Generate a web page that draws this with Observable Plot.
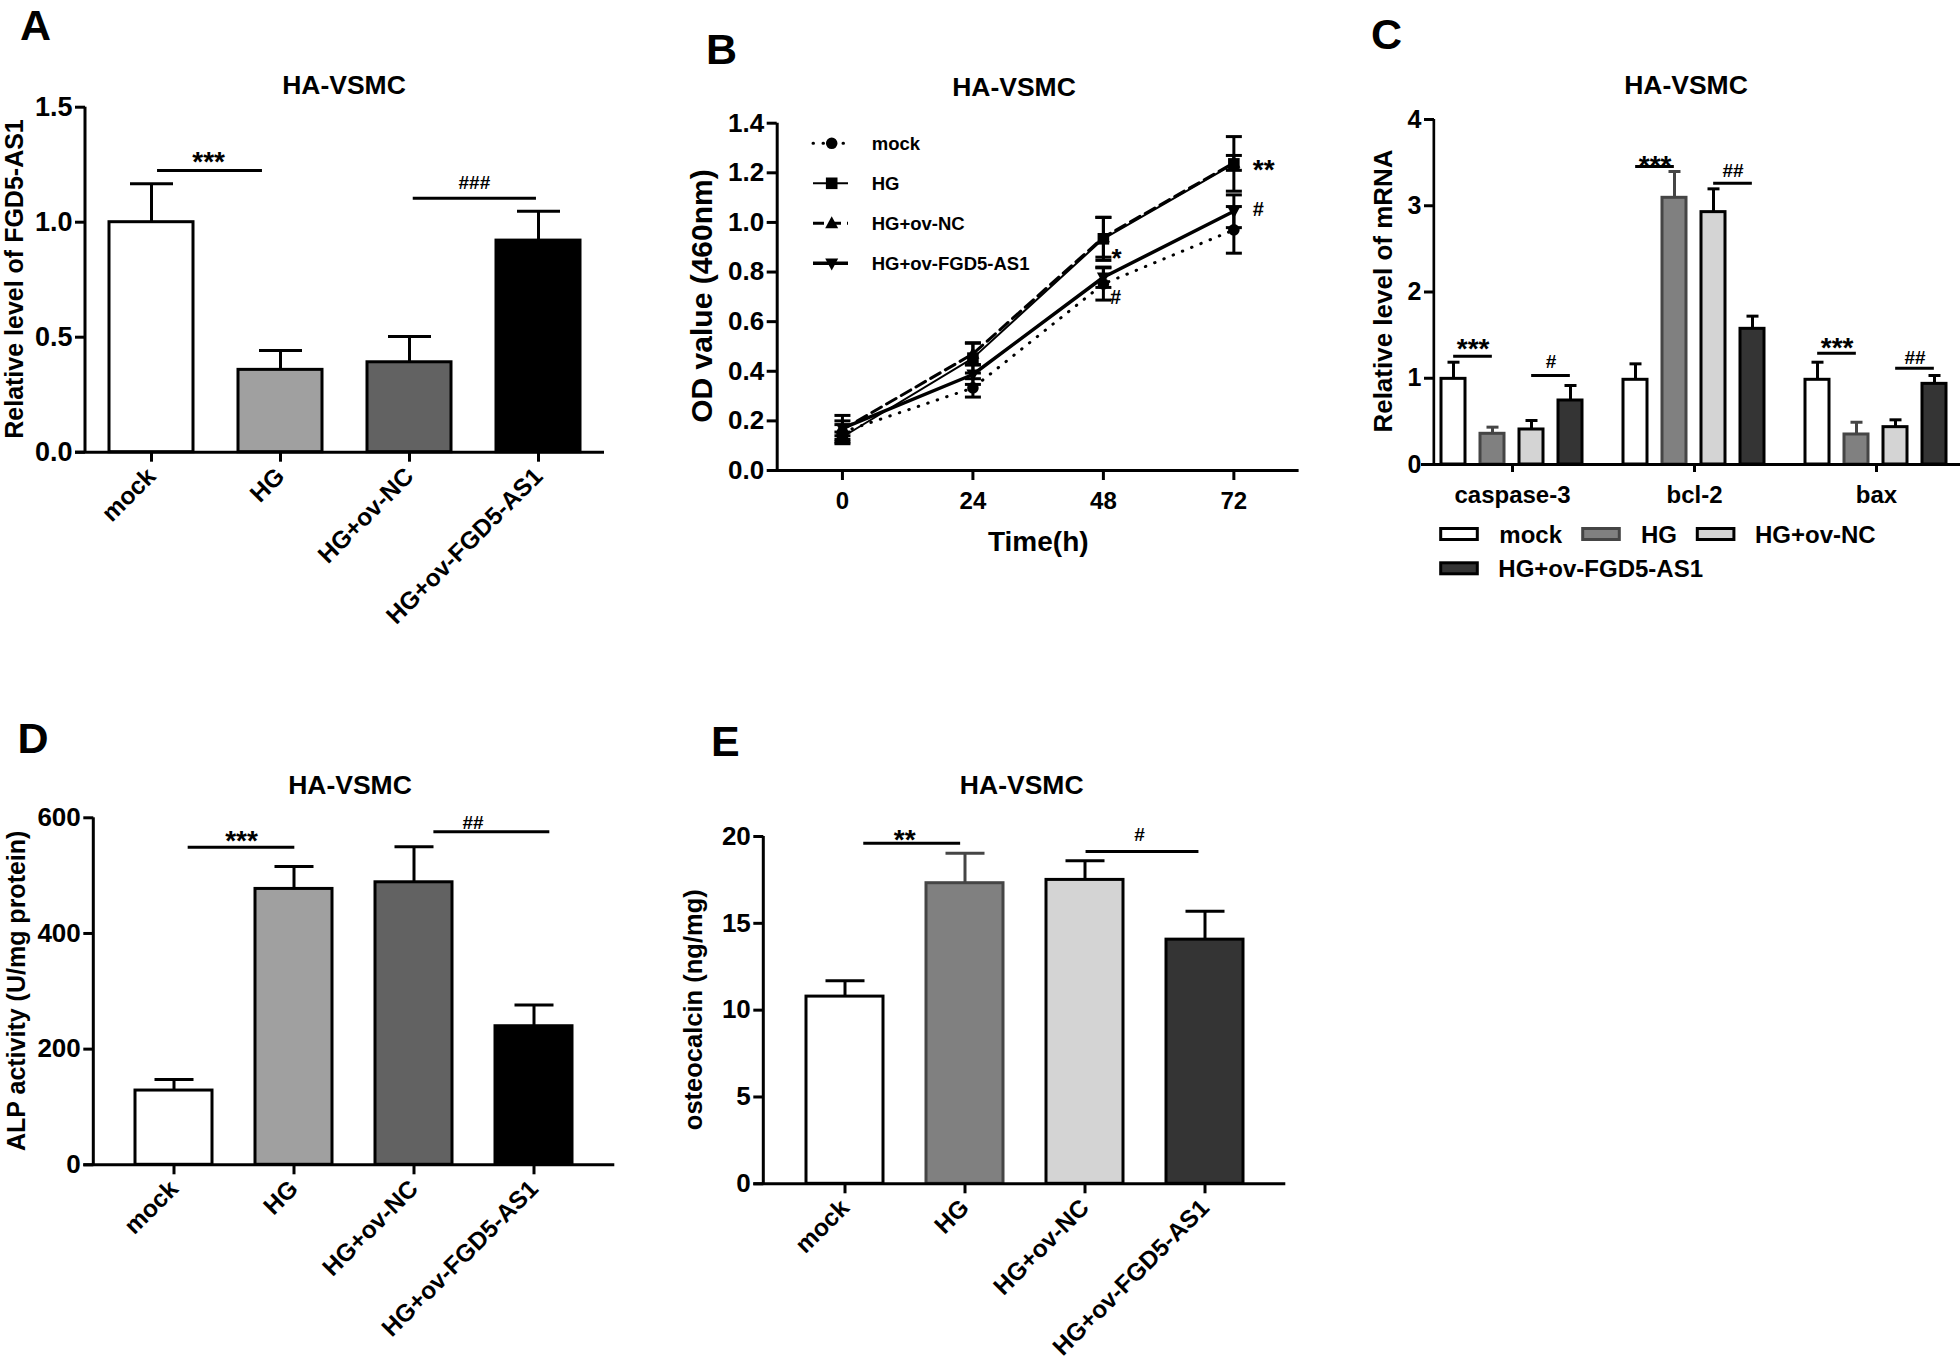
<!DOCTYPE html>
<html>
<head>
<meta charset="utf-8">
<script src="https://cdn.jsdelivr.net/npm/d3@7"></script>
<script src="https://cdn.jsdelivr.net/npm/@observablehq/plot@0.6"></script>
<style>
html, body { margin: 0; padding: 0; background: #fff; overflow: hidden; }
#fig { position: relative; width: 1960px; height: 1362px; background: #fff; }
.panel { position: absolute; }
#overlay { position: absolute; left: 0; top: 0; pointer-events: none; }
</style>
</head>
<body>
<div id="fig"></div>
<script>
// ================= DATA =================
const groups = ["mock", "HG", "HG+ov-NC", "HG+ov-FGD5-AS1"];

// Panel A: relative level of FGD5-AS1
const fgd5Mean = [1.00, 0.358, 0.391, 0.920];
const fgd5Err = [0.167, 0.084, 0.112, 0.128];
const fgd5Ticks = [0, 0.5, 1.0, 1.5];
const fgd5Sig = [
  {from: "mock", to: "HG", level: 1.225, label: "***"},
  {from: "HG+ov-NC", to: "HG+ov-FGD5-AS1", level: 1.104, label: "###"}
];

// Panel B: OD value (460nm) over time
const hours = [0, 24, 48, 72];
const odMock = [0.155, 0.333, 0.752, 0.970];
const odMockSd = [0.030, 0.037, 0.065, 0.094];
const odHG = [0.135, 0.453, 0.934, 1.236];
const odHGSd = [0.020, 0.060, 0.087, 0.110];
const odNC = [0.165, 0.470, 0.940, 1.240];
const odNCSd = [0.057, 0.045, 0.080, 0.030];
const odFGD = [0.170, 0.387, 0.779, 1.045];
const odFGDSd = [0.030, 0.040, 0.041, 0.066];
const odTicks = [0, 0.2, 0.4, 0.6, 0.8, 1.0, 1.2, 1.4];
const odSig = [
  {series: "HG", hour: 72, label: "**"},
  {series: "HG+ov-FGD5-AS1", hour: 72, label: "#"},
  {series: "HG", hour: 48, label: "*"},
  {series: "HG+ov-FGD5-AS1", hour: 48, label: "#"}
];

// Panel C: relative level of mRNA
const genes = ["caspase-3", "bcl-2", "bax"];
const mrnaMock = [0.993, 0.982, 0.982];
const mrnaMockErr = [0.193, 0.185, 0.204];
const mrnaHG = [0.356, 3.092, 0.348];
const mrnaHGErr = [0.077, 0.305, 0.142];
const mrnaNC = [0.406, 2.926, 0.433];
const mrnaNCErr = [0.104, 0.270, 0.085];
const mrnaFGD = [0.742, 1.573, 0.935];
const mrnaFGDErr = [0.174, 0.147, 0.097];
const mrnaTicks = [0, 1, 2, 3, 4];
const mrnaSig = [
  {gene: "caspase-3", from: "mock", to: "HG", level: 1.256, label: "***"},
  {gene: "caspase-3", from: "HG+ov-NC", to: "HG+ov-FGD5-AS1", level: 1.032, label: "#"},
  {gene: "bcl-2", from: "mock", to: "HG", level: 3.455, label: "***"},
  {gene: "bcl-2", from: "HG+ov-NC", to: "HG+ov-FGD5-AS1", level: 3.261, label: "##"},
  {gene: "bax", from: "mock", to: "HG", level: 1.291, label: "***"},
  {gene: "bax", from: "HG+ov-NC", to: "HG+ov-FGD5-AS1", level: 1.117, label: "##"}
];

// Panel D: ALP activity
const alpMean = [128.4, 477.0, 488.5, 239.6];
const alpErr = [19.1, 39.0, 61.5, 36.9];
const alpTicks = [0, 200, 400, 600];
const alpSig = [
  {from: "mock", to: "HG", level: 549, label: "***"},
  {from: "HG+ov-NC", to: "HG+ov-FGD5-AS1", level: 576, label: "##"}
];

// Panel E: osteocalcin
const ocnMean = [10.78, 17.31, 17.50, 14.06];
const ocnErr = [0.92, 1.72, 1.11, 1.63];
const ocnTicks = [0, 5, 10, 15, 20];
const ocnSig = [
  {from: "mock", to: "HG", level: 19.61, label: "**"},
  {from: "HG+ov-NC", to: "HG+ov-FGD5-AS1", level: 19.13, label: "#"}
];

// ================= STYLES =================
const FONT = '"Liberation Sans", Arial, Helvetica, sans-serif';
const fillsAD = ["#ffffff", "#a0a0a0", "#626262", "#000000"];
const strokesAD = ["#000", "#000", "#000", "#000"];
const fillsCE = ["#ffffff", "#808080", "#d4d4d4", "#343434"];
const strokesCE = ["#000", "#454545", "#000", "#000"];
const baseStyle = {background: "none", overflow: "visible", fontFamily: FONT, fontWeight: "bold", fontSize: "26px", color: "black", maxWidth: "none"};

const capSym = {draw(ctx, size) { const r = Math.sqrt(size / Math.PI); ctx.moveTo(-r, 0); ctx.lineTo(r, 0); }};
const squareSym = {draw(ctx, size) { const r = Math.sqrt(size / Math.PI); ctx.moveTo(-r, -r); ctx.lineTo(r, -r); ctx.lineTo(r, r); ctx.lineTo(-r, r); ctx.closePath(); }};
const triUpSym = {draw(ctx, size) { const r = Math.sqrt(size / Math.PI); ctx.moveTo(0, -r * 1.1); ctx.lineTo(r, r * 0.75); ctx.lineTo(-r, r * 0.75); ctx.closePath(); }};
const triDownSym = {draw(ctx, size) { const r = Math.sqrt(size / Math.PI); ctx.moveTo(0, r * 1.1); ctx.lineTo(r, -r * 0.75); ctx.lineTo(-r, -r * 0.75); ctx.closePath(); }};

const fig = document.getElementById("fig");
function mount(node, left, top) {
  const div = document.createElement("div");
  div.className = "panel";
  div.style.left = left + "px";
  div.style.top = top + "px";
  div.appendChild(node);
  fig.appendChild(div);
}

// ================= BAR PANELS (A, D, E) =================
function barPanel(cfg) {
  const {mean, err, ticks, tickFormat, sig, sigStyle, fills, strokes, L} = cfg;
  const rows = groups.map((g, i) => ({g, i, v: mean[i], e: err[i]}));
  const innerW = L.width - L.ml - L.mr;
  const step = innerW / (groups.length - L.pi + 2 * L.po);
  const bw = step * (1 - L.pi);
  const marks = [
    Plot.ruleX(rows, {x: "g", y1: "v", y2: d => d.v + d.e, stroke: d => strokes[d.i], strokeWidth: 3}),
    Plot.dot(rows, {x: "g", y: d => d.v + d.e, symbol: capSym, r: L.cap, fill: "none", stroke: d => strokes[d.i], strokeWidth: 3}),
    Plot.barY(rows, {x: "g", y1: 0, y2: "v", fill: d => fills[d.i], stroke: d => strokes[d.i], strokeWidth: 3}),
    // y-axis line along the left edge of the frame
    Plot.barY([L.ydomain], {y1: d => d[0], y2: d => d[1], fill: "black", insetLeft: -1.5, insetRight: innerW - 1.5}),
    Plot.ruleY([0], {stroke: "black", strokeWidth: 3, insetLeft: -10}),
    Plot.axisY({ticks, tickFormat, tickSize: 10, tickPadding: 3, strokeWidth: 3, fontSize: L.yFont, label: null}),
    Plot.axisX({tickRotate: -45, tickSize: 10, tickPadding: L.xPad, strokeWidth: 3, fontSize: 24.5, label: null})
  ];
  sig.forEach((s, k) => {
    const st = sigStyle[k];
    marks.push(Plot.ruleY([s], {x1: "from", x2: "to", y: "level", stroke: "black", strokeWidth: 3,
      insetLeft: bw / 2 + st.start, insetRight: bw / 2 - st.end}));
    marks.push(Plot.text([s], {x: "from", y: "level", text: "label", dx: step / 2 + st.tx, dy: st.dy,
      lineAnchor: "bottom", fontSize: st.fs}));
  });
  return Plot.plot({
    width: L.width, height: L.height,
    marginLeft: L.ml, marginRight: L.mr, marginTop: L.mt, marginBottom: L.mb,
    style: baseStyle,
    x: {domain: groups, paddingInner: L.pi, paddingOuter: L.po},
    y: {domain: L.ydomain},
    color: {type: "identity"},
    marks
  });
}

// Panel A
mount(barPanel({
  mean: fgd5Mean, err: fgd5Err, ticks: fgd5Ticks, tickFormat: ".1f", sig: fgd5Sig,
  sigStyle: [{start: 6, end: -18, tx: -7.7, dy: 1, fs: 28}, {start: 3.7, end: -2, tx: 0, dy: -9.7, fs: 19}],
  fills: fillsAD, strokes: strokesAD,
  L: {width: 640, height: 700, ml: 85, mr: 36, mt: 106.7, mb: 248.3, pi: 0.352, po: 0.176, cap: 21.5, yFont: 27, xPad: 10, ydomain: [0, 1.5]}
}), 0, 0);

// Panel D
mount(barPanel({
  mean: alpMean, err: alpErr, ticks: alpTicks, tickFormat: "d", sig: alpSig,
  sigStyle: [{start: 14, end: 1, tx: 7.4, dy: 3, fs: 28}, {start: 19.7, end: 16, tx: -1.2, dy: -3, fs: 19}],
  fills: fillsAD, strokes: strokesAD,
  L: {width: 650, height: 662, ml: 93.3, mr: 35.7, mt: 117.3, mb: 197.7, pi: 0.357, po: 0.344, cap: 19.5, yFont: 26, xPad: 10, ydomain: [0, 600]}
}), 0, 700);

// Panel E
mount(barPanel({
  mean: ocnMean, err: ocnErr, ticks: ocnTicks, tickFormat: "d", sig: ocnSig,
  sigStyle: [{start: 18.4, end: -4, tx: -0.6, dy: 6, fs: 28}, {start: 0.7, end: -5.7, tx: -5.9, dy: -11, fs: 19}],
  fills: fillsCE, strokes: strokesCE,
  L: {width: 650, height: 662, ml: 103.3, mr: 24.7, mt: 136, mb: 178.7, pi: 0.356, po: 0.341, cap: 19.5, yFont: 26, xPad: 10, ydomain: [0, 20]}
}), 660, 700);

// ================= PANEL B (line chart) =================
const odMeans = [odMock, odHG, odNC, odFGD];
const odSds = [odMockSd, odHGSd, odNCSd, odFGDSd];
const rowsB = groups.flatMap((s, i) => hours.map((h, j) => ({s, i, t: h, v: odMeans[i][j], sd: odSds[i][j]})));
const lineStyles = [
  {strokeWidth: 3, strokeDasharray: "0.5,9.5", strokeLinecap: "round"},
  {strokeWidth: 2},
  {strokeWidth: 3, strokeDasharray: "11,6"},
  {strokeWidth: 3.5}
];
const markerSyms = ["circle", squareSym, triUpSym, triDownSym];
const markerR = [5.8, 5.8, 6.5, 6.5];
const odSigStyle = [{dx: 19, dy: 5.7, fs: 28}, {dx: 19, dy: -1.7, fs: 20}, {dx: 8, dy: 19.4, fs: 26}, {dx: 6.7, dy: 20.7, fs: 20}];
const odSigRows = odSig.map(s => {
  const i = groups.indexOf(s.series), j = hours.indexOf(s.hour);
  return {...s, v: odMeans[i][j]};
});
{
  const xDomain = [-12, 84], yDomain = [0, 1.4];
  const marks = [
    Plot.ruleX(rowsB, {x: "t", y1: d => d.v - d.sd, y2: d => d.v + d.sd, stroke: "black", strokeWidth: 3}),
    Plot.dot(rowsB, {x: "t", y: d => d.v + d.sd, symbol: capSym, r: 8, fill: "none", stroke: "black", strokeWidth: 3}),
    Plot.dot(rowsB, {x: "t", y: d => d.v - d.sd, symbol: capSym, r: 8, fill: "none", stroke: "black", strokeWidth: 3}),
    ...groups.map((s, i) => Plot.line(rowsB.filter(d => d.i === i), {x: "t", y: "v", stroke: "black", ...lineStyles[i]})),
    ...groups.map((s, i) => Plot.dot(rowsB.filter(d => d.i === i), {x: "t", y: "v", symbol: markerSyms[i], r: markerR[i], fill: "black", stroke: "none"})),
    Plot.ruleX([xDomain[0]], {y1: yDomain[0], y2: yDomain[1], stroke: "black", strokeWidth: 3}),
    Plot.ruleY([0], {stroke: "black", strokeWidth: 3, insetLeft: -7}),
    Plot.axisY({ticks: odTicks, tickFormat: ".1f", tickSize: 10, tickPadding: 3, strokeWidth: 3, fontSize: 26, label: null}),
    Plot.axisX({ticks: hours, tickSize: 10, tickPadding: 11, strokeWidth: 3, fontSize: 24, label: null}),
    ...odSigRows.map((s, k) => Plot.text([s], {x: "hour", y: "v", text: "label", textAnchor: "start",
      dx: odSigStyle[k].dx, dy: odSigStyle[k].dy, fontSize: odSigStyle[k].fs}))
  ];
  mount(Plot.plot({
    width: 670, height: 620,
    marginLeft: 116.7, marginRight: 31.4, marginTop: 122.7, marginBottom: 150,
    style: baseStyle,
    x: {domain: xDomain},
    y: {domain: yDomain},
    marks
  }), 660, 0);
}

// ================= PANEL C (grouped bars) =================
{
  const means = [mrnaMock, mrnaHG, mrnaNC, mrnaFGD];
  const errs = [mrnaMockErr, mrnaHGErr, mrnaNCErr, mrnaFGDErr];
  const rows = genes.flatMap((gene, gi) => groups.map((g, i) => ({gene, g, i, v: means[i][gi], e: errs[i][gi]})));
  const W = 640, ml = 90, mr = 3, pi = 0.38, po = 0.515, yAxisDx = 13;
  const facetW = (W - ml - mr) / genes.length;
  const step = facetW / (groups.length - pi + 2 * po);
  const bw = step * (1 - pi);
  const sigDy = [2, -7, 8, -6, 4, -4.4];
  const marks = [
    Plot.ruleX(rows, {fx: "gene", x: "g", y1: "v", y2: d => d.v + d.e, stroke: d => strokesCE[d.i], strokeWidth: 3}),
    Plot.dot(rows, {fx: "gene", x: "g", y: d => d.v + d.e, symbol: capSym, r: 6, fill: "none", stroke: d => strokesCE[d.i], strokeWidth: 3}),
    Plot.barY(rows, {fx: "gene", x: "g", y1: 0, y2: "v", fill: d => fillsCE[d.i], stroke: d => strokesCE[d.i], strokeWidth: 3}),
    Plot.ruleY([0], {stroke: "black", strokeWidth: 3}),
    // y-axis line (first facet only)
    Plot.barY([{gene: genes[0]}], {fx: "gene", y1: 0, y2: 4, fill: "black",
      insetLeft: yAxisDx - 1.5, insetRight: facetW - yAxisDx - 1.5}),
    Plot.axisY({ticks: mrnaTicks, tickFormat: "d", tickSize: 10, tickPadding: 3, strokeWidth: 3, fontSize: 25, label: null, dx: yAxisDx}),
    Plot.axisFx({anchor: "bottom", tickSize: 8, tickPadding: 13, strokeWidth: 3, fontSize: 24, label: null}),
    ...mrnaSig.map((s, k) => Plot.ruleY([s], {fx: "gene", x1: "from", x2: "to", y: "level", stroke: "black", strokeWidth: 3,
      insetLeft: bw / 2, insetRight: bw / 2})),
    ...mrnaSig.map((s, k) => Plot.text([s], {fx: "gene", x: "from", y: "level", text: "label", dx: step / 2, dy: sigDy[k],
      lineAnchor: "bottom", fontSize: s.label.startsWith("*") ? 28 : 19}))
  ];
  mount(Plot.plot({
    width: W, height: 620,
    marginLeft: ml, marginRight: mr, marginTop: 119, marginBottom: 156,
    facet: {marginTop: 0, marginRight: 0, marginBottom: 0, marginLeft: 0},
    style: baseStyle,
    fx: {domain: genes, padding: 0},
    x: {domain: groups, paddingInner: pi, paddingOuter: po, axis: null},
    y: {domain: [0, 4]},
    color: {type: "identity"},
    marks
  }), 1330, 0);
}

// ================= OVERLAY TEXT & LEGENDS =================
const ov = d3.create("svg").attr("id", "overlay").attr("width", 1960).attr("height", 1362)
  .style("font-family", FONT).style("font-weight", "bold");
function txt(x, y, s, fs, o = {}) {
  const t = ov.append("text").attr("x", x).attr("y", y).attr("font-size", fs).attr("fill", "black")
    .attr("text-anchor", o.anchor || "start").text(s);
  if (o.central) t.attr("dominant-baseline", "central");
  if (o.rotate) t.attr("transform", `rotate(${o.rotate},${x},${y})`);
  return t;
}
// panel letters
[["A", 20, 39.8], ["B", 706, 63.8], ["C", 1371, 48.8], ["D", 17.5, 752.8], ["E", 711, 755.8]]
  .forEach(([s, x, y]) => txt(x, y, s, 43));
// titles
[[344, 94], [1014, 96], [1686, 94], [350, 794], [1021.7, 794]]
  .forEach(([x, y]) => txt(x, y, "HA-VSMC", 26.5, {anchor: "middle"}));
// axis titles
txt(13.7, 279, "Relative level of FGD5-AS1", 25, {anchor: "middle", central: true, rotate: -90});
txt(701, 296, "OD value (460nm)", 30, {anchor: "middle", central: true, rotate: -90});
txt(1383, 291, "Relative level of mRNA", 26, {anchor: "middle", central: true, rotate: -90});
txt(16.3, 990.8, "ALP activity (U/mg protein)", 25, {anchor: "middle", central: true, rotate: -90});
txt(693, 1009.7, "osteocalcin (ng/mg)", 25.5, {anchor: "middle", central: true, rotate: -90});
txt(1038.3, 541.7, "Time(h)", 28, {anchor: "middle", central: true});

// legend B
const legBY = [143.3, 183.3, 223.3, 263.3];
groups.forEach((s, i) => {
  const y = legBY[i];
  const ls = lineStyles[i];
  const ln = ov.append("line").attr("x1", 813).attr("x2", 848).attr("y1", y).attr("y2", y)
    .attr("stroke", "black").attr("stroke-width", ls.strokeWidth);
  if (ls.strokeDasharray) ln.attr("stroke-dasharray", ls.strokeDasharray);
  if (ls.strokeLinecap) ln.attr("stroke-linecap", ls.strokeLinecap);
  const symType = markerSyms[i] === "circle" ? d3.symbolCircle : markerSyms[i];
  ov.append("path").attr("transform", `translate(831.7,${y})`)
    .attr("d", d3.symbol(symType, Math.PI * markerR[i] * markerR[i])()).attr("fill", "black");
  txt(871.7, y, s, 18.5, {central: true});
});

// legend C
const legC = [
  {i: 0, sx: 1440.7, tx: 1499.3, y: 534},
  {i: 1, sx: 1582.7, tx: 1641, y: 534},
  {i: 2, sx: 1697.3, tx: 1755, y: 534},
  {i: 3, sx: 1440.7, tx: 1498.3, y: 568.3}
];
legC.forEach(({i, sx, tx, y}) => {
  ov.append("rect").attr("x", sx).attr("y", y - 5.5).attr("width", 36.6).attr("height", 11)
    .attr("fill", fillsCE[i]).attr("stroke", strokesCE[i]).attr("stroke-width", 3);
  txt(tx, y, groups[i], 24, {central: true});
});

fig.appendChild(ov.node());
</script>
</body>
</html>
